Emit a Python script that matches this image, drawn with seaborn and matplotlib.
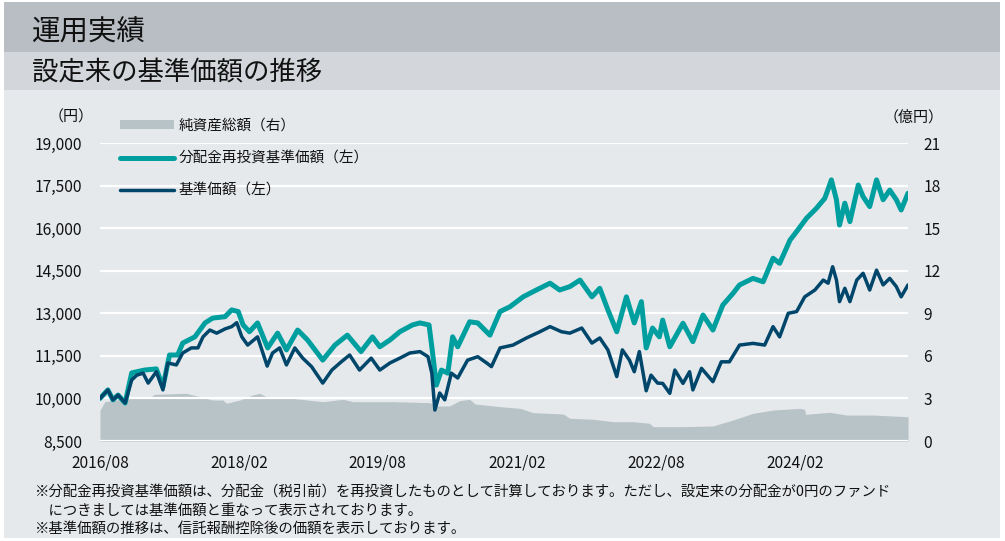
import matplotlib.pyplot as plt
import pandas as pd
import seaborn as sns
from matplotlib.lines import Line2D
from matplotlib.patches import Patch, Rectangle

# 基準価額（円）
nav_dates = [
    "2016-08-01", "2016-09-01", "2016-09-21", "2016-10-11", "2016-11-08", "2016-12-04",
    "2016-12-24", "2017-01-18", "2017-02-07", "2017-03-11", "2017-04-06", "2017-04-25",
    "2017-05-29", "2017-06-23", "2017-07-27", "2017-08-22", "2017-09-11", "2017-10-08",
    "2017-11-04", "2017-12-07", "2018-01-02", "2018-01-22", "2018-02-11", "2018-03-06",
    "2018-04-14", "2018-05-22", "2018-06-12", "2018-07-10", "2018-08-06", "2018-09-08",
    "2018-10-09", "2018-11-13", "2018-12-27", "2019-02-01", "2019-03-10", "2019-04-12",
    "2019-05-21", "2019-07-06", "2019-08-09", "2019-09-18", "2019-10-27", "2019-12-05",
    "2020-01-14", "2020-02-15", "2020-03-01", "2020-03-13", "2020-04-01", "2020-04-21",
    "2020-05-17", "2020-06-11", "2020-07-20", "2020-08-29", "2020-10-03", "2020-10-22",
    "2020-11-25", "2021-01-15", "2021-03-09", "2021-05-01", "2021-06-10", "2021-07-25",
    "2021-08-27", "2021-10-13", "2021-11-22", "2021-12-23", "2022-01-24", "2022-02-28",
    "2022-03-22", "2022-04-19", "2022-05-08", "2022-05-28", "2022-06-24", "2022-07-13",
    "2022-08-08", "2022-08-28", "2022-09-25", "2022-10-15", "2022-11-16", "2022-12-12",
    "2022-12-25", "2023-01-28", "2023-03-14", "2023-04-16", "2023-05-18", "2023-06-27",
    "2023-08-19", "2023-10-04", "2023-11-06", "2023-12-02", "2024-01-05", "2024-02-07",
    "2024-03-10", "2024-04-19", "2024-05-22", "2024-06-10", "2024-06-28", "2024-07-13",
    "2024-07-25", "2024-08-15", "2024-09-04", "2024-10-01", "2024-10-26", "2024-11-21",
    "2024-12-18", "2025-01-13", "2025-02-08", "2025-03-06", "2025-03-25", "2025-04-21",
]
nav_values = [
    10000, 10300, 9950, 10120, 9840, 10650,
    10820, 10890, 10540, 10940, 10300, 11250,
    11180, 11600, 11780, 11780, 12170, 12410,
    12300, 12450, 12530, 12670, 12170, 11880,
    12170, 11140, 11600, 11780, 11180, 11780,
    11420, 11120, 10540, 11000, 11290, 11530,
    11000, 11420, 11000, 11250, 11420, 11600,
    11650, 11470, 10890, 9590, 10190, 9950,
    10890, 10720, 11350, 11470, 11250, 11120,
    11780, 11880, 12130, 12350, 12530, 12350,
    12300, 12480, 11950, 12130, 11710, 10770,
    11710, 11350, 10940, 11650, 10270, 10820,
    10540, 10530, 10180, 11000, 10530, 10940,
    10300, 11060, 10590, 11290, 11290, 11880,
    11940, 11880, 12530, 12170, 13000, 13060,
    13580, 13820, 14170, 14060, 14640, 14170,
    13410, 13880, 13410, 14170, 14410, 13820,
    14520, 14000, 14230, 13940, 13580, 14000,
]

# 分配金再投資基準価額（円）
reinv_dates = [
    "2016-08-01", "2016-09-01", "2016-09-21", "2016-10-11", "2016-11-08", "2016-12-04",
    "2017-01-24", "2017-03-11", "2017-04-06", "2017-05-02", "2017-06-03", "2017-06-23",
    "2017-08-10", "2017-09-19", "2017-10-19", "2017-12-07", "2018-01-02", "2018-01-28",
    "2018-02-16", "2018-03-13", "2018-04-14", "2018-05-24", "2018-07-02", "2018-08-06",
    "2018-09-19", "2018-10-28", "2018-12-27", "2019-02-13", "2019-04-03", "2019-05-27",
    "2019-07-11", "2019-08-09", "2019-09-18", "2019-10-27", "2019-12-16", "2020-01-14",
    "2020-02-19", "2020-03-04", "2020-03-19", "2020-04-08", "2020-05-03", "2020-05-22",
    "2020-06-11", "2020-07-28", "2020-08-29", "2020-10-16", "2020-11-25", "2021-01-03",
    "2021-02-24", "2021-04-17", "2021-06-10", "2021-07-18", "2021-08-27", "2021-10-06",
    "2021-11-22", "2021-12-23", "2022-01-24", "2022-02-28", "2022-04-07", "2022-05-08",
    "2022-06-05", "2022-06-24", "2022-07-19", "2022-08-15", "2022-08-28", "2022-09-25",
    "2022-11-16", "2022-12-25", "2023-02-03", "2023-03-14", "2023-04-22", "2023-06-01",
    "2023-06-27", "2023-08-19", "2023-09-28", "2023-11-06", "2023-12-02", "2024-01-12",
    "2024-02-07", "2024-03-17", "2024-04-25", "2024-05-28", "2024-06-23", "2024-07-13",
    "2024-07-25", "2024-08-15", "2024-09-04", "2024-10-07", "2024-10-26", "2024-11-21",
    "2024-12-18", "2025-01-13", "2025-02-08", "2025-03-06", "2025-03-25", "2025-04-21",
]
reinv_values = [
    10000, 10300, 9950, 10120, 9840, 10900,
    11000, 11040, 10410, 11530, 11530, 11950,
    12170, 12660, 12830, 12880, 13120, 13060,
    12590, 12350, 12660, 11780, 12300, 11710,
    12410, 12060, 11350, 11880, 12230, 11650,
    12170, 11820, 12060, 12350, 12590, 12660,
    12590, 11600, 10470, 11000, 10890, 12170,
    11820, 12700, 12660, 12230, 13060, 13230,
    13580, 13820, 14060, 13820, 13940, 14170,
    13580, 13880, 13120, 12350, 13580, 12660,
    13410, 11780, 12480, 12170, 12760, 11820,
    12650, 12000, 12940, 12410, 13290, 13700,
    14000, 14230, 14110, 14940, 14760, 15580,
    15880, 16350, 16700, 17050, 17700, 17000,
    16110, 16880, 16230, 17520, 17110, 16760,
    17700, 17000, 17340, 17000, 16640, 17230,
]

# 純資産総額（億円）
aum_dates = [
    "2016-08-01", "2016-08-20", "2016-11-14", "2017-02-15", "2017-03-04", "2017-07-07",
    "2017-08-30", "2017-10-19", "2017-11-28", "2017-12-13", "2018-02-04", "2018-03-25",
    "2018-04-22", "2018-05-19", "2018-09-01", "2018-12-28", "2019-03-17", "2019-04-25",
    "2019-10-01", "2020-02-22", "2020-03-19", "2020-05-10", "2020-06-19", "2020-07-28",
    "2020-08-18", "2020-10-28", "2020-11-25", "2021-02-12", "2021-04-04", "2021-08-01",
    "2021-08-27", "2021-11-27", "2022-02-15", "2022-05-04", "2022-07-07", "2022-07-21",
    "2022-11-16", "2023-03-14", "2023-06-01", "2023-08-19", "2023-11-06", "2024-02-20",
    "2024-03-10", "2024-03-13", "2024-06-16", "2024-08-22", "2024-12-04", "2025-04-21",
]
aum_values = [
    2.18, 2.77, 3.00, 3.08, 3.29, 3.36,
    3.12, 2.89, 2.89, 2.66, 2.89, 3.24,
    3.36, 3.12, 3.00, 2.77, 2.94, 2.77,
    2.77, 2.70, 2.47, 2.47, 2.84, 2.94,
    2.61, 2.47, 2.42, 2.30, 2.00, 1.90,
    1.60, 1.53, 1.36, 1.36, 1.25, 1.01,
    1.01, 1.06, 1.48, 1.95, 2.18, 2.30,
    2.23, 1.88, 2.02, 1.83, 1.83, 1.71,
]

tick_dates = ["2016-08-01", "2018-02-01", "2019-08-01", "2021-02-01", "2022-08-01", "2024-02-01"]
tick_labels = ["2016/08", "2018/02", "2019/08", "2021/02", "2022/08", "2024/02"]
left_ticks = [8500, 10000, 11500, 13000, 14500, 16000, 17500, 19000]
right_ticks = [0, 3, 6, 9, 12, 15, 18, 21]

legend_labels = ["純資産総額（右）", "分配金再投資基準価額（左）", "基準価額（左）"]
notes = [
    "※分配金再投資基準価額は、分配金（税引前）を再投資したものとして計算しております。ただし、設定来の分配金が0円のファンド",
    "　につきましては基準価額と重なって表示されております。",
    "※基準価額の推移は、信託報酬控除後の価額を表示しております。",
]

TEAL = "#009f9f"
NAVY = "#00466b"
AREA = "#b8c3c7"
BG = "#e6e9ec"
TXT = "#111111"

sns.set_style("white")
plt.rcParams["font.family"] = ["Noto Sans CJK JP", "DejaVu Sans"]

W, H = 1005, 541
fig = plt.figure(figsize=(W / 100, H / 100), dpi=100, facecolor="white")

# background bands
fig.patches.append(Rectangle((4 / W, 1 - 538 / H), 996 / W, 536 / H, transform=fig.transFigure,
                             facecolor=BG, edgecolor="none", zorder=-3))
fig.patches.append(Rectangle((4 / W, 1 - 90 / H), 996 / W, 38 / H, transform=fig.transFigure,
                             facecolor="#d3d7db", edgecolor="none", zorder=-2))
fig.patches.append(Rectangle((4 / W, 1 - 52 / H), 996 / W, 50 / H, transform=fig.transFigure,
                             facecolor="#b9bec4", edgecolor="none", zorder=-2))
fig.text(32 / W, 1 - 41 / H, "運用実績", fontsize=20.5, color=TXT, va="baseline", ha="left")
fig.text(32 / W, 1 - 80 / H, "設定来の基準価額の推移", fontsize=19, color=TXT, va="baseline", ha="left")

ax = fig.add_axes([100 / W, 1 - 441 / H, 808 / W, 298 / H])
ax2 = ax.twinx()
ax.set_zorder(ax2.get_zorder() + 1)
ax.patch.set_visible(False)
ax2.patch.set_visible(False)

aum = pd.DataFrame({"date": pd.to_datetime(aum_dates), "value": aum_values})
ax2.fill_between(aum["date"], 0, aum["value"], color=AREA, linewidth=0)

reinv = pd.DataFrame({"date": pd.to_datetime(reinv_dates), "value": reinv_values})
nav = pd.DataFrame({"date": pd.to_datetime(nav_dates), "value": nav_values})
sns.lineplot(data=reinv, x="date", y="value", ax=ax, color=TEAL, linewidth=3.6)
sns.lineplot(data=nav, x="date", y="value", ax=ax, color=NAVY, linewidth=2.5)

xmin, xmax = pd.Timestamp("2016-08-01"), pd.Timestamp("2025-04-21")
for a in (ax, ax2):
    a.set_xlim(xmin, xmax)
    a.set_xlabel("")
    a.set_ylabel("")
    for s in a.spines.values():
        s.set_visible(False)

ax.set_ylim(8500, 19000)
ax.set_yticks(left_ticks)
ax.set_yticklabels([f"{v:,}" for v in left_ticks])
ax2.set_ylim(0, 21)
ax2.set_yticks(right_ticks)
ax2.set_yticklabels([str(v) for v in right_ticks])
ax.set_xticks(pd.to_datetime(tick_dates))
ax.set_xticklabels(tick_labels)

ax.grid(axis="y", color="white", linewidth=1.6)
ax.set_axisbelow(True)
ax.tick_params(axis="x", direction="in", length=4, width=2, color="white", pad=10,
               labelsize=11.2, labelcolor=TXT)
ax.tick_params(axis="y", length=0, pad=13, labelsize=11.2, labelcolor=TXT)
ax2.tick_params(axis="y", length=0, pad=11, labelsize=11.2, labelcolor=TXT)
ax2.tick_params(axis="x", length=0)

fig.text(94 / W, 1 - 117 / H, "（円）", fontsize=10.8, color=TXT, va="center", ha="right")
fig.text(944 / W, 1 - 117 / H, "（億円）", fontsize=10.8, color=TXT, va="center", ha="right")

handles = [
    Patch(facecolor=AREA, edgecolor="none"),
    Line2D([], [], color=TEAL, linewidth=3.6),
    Line2D([], [], color=NAVY, linewidth=2.5),
]
ax.legend(handles, legend_labels, loc="upper left", bbox_to_anchor=(120 / W, 1 - 119 / H),
          bbox_transform=fig.transFigure, frameon=False, fontsize=10.5, handlelength=3.7,
          handleheight=0.55, handletextpad=0.3, labelspacing=1.25, borderpad=0, borderaxespad=0,
          labelcolor=TXT)

for i, line in enumerate(notes):
    fig.text(34 / W, 1 - (492 + 18.5 * i) / H, line, fontsize=10.4, color=TXT,
             va="center", ha="left")

fig.savefig("out.png", dpi=100, facecolor=fig.get_facecolor())
